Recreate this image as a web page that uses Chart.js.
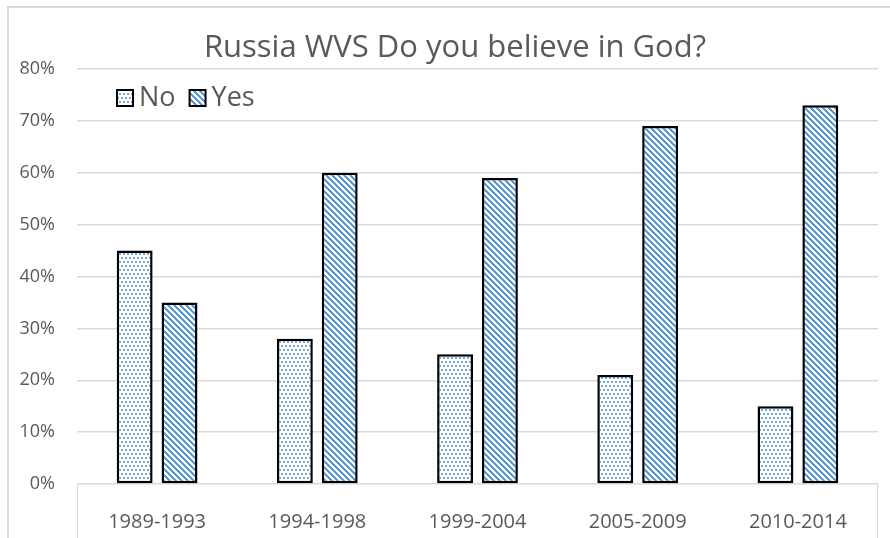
<!DOCTYPE html>
<html>
<head>
<meta charset="utf-8">
<script src="https://cdn.jsdelivr.net/npm/chart.js@4/dist/chart.umd.min.js"></script>
<style>
  html, body { margin: 0; padding: 0; background: #ffffff; }
  #wrap { width: 890px; height: 538px; position: relative; }
</style>
</head>
<body>
<div id="wrap"><canvas id="c" width="890" height="538"></canvas></div>
<script>
// Survey waves and shares (percent)
const periods = ['1989-1993', '1994-1998', '1999-2004', '2005-2009', '2010-2014'];
const noValues = [45, 28, 25, 21, 15];
const yesValues = [35, 60, 59, 69, 73];
const seriesNames = ['No', 'Yes'];
const chartTitle = 'Russia WVS Do you believe in God?';

const TEXT = '#595959';
const GRID = '#d9d9d9';
const BLUE = [91, 155, 213];
const FONT = '"Open Sans", sans-serif';

// Small dotted tile for "No"
function dotPattern() {
  const t = document.createElement('canvas');
  t.width = 8; t.height = 8;
  const g = t.getContext('2d');
  g.fillStyle = '#ffffff';
  g.fillRect(0, 0, 8, 8);
  g.fillStyle = 'rgb(111, 168, 220)';
  g.fillRect(1, 1, 2, 2);
  g.fillRect(5, 1, 2, 2);
  g.fillRect(3, 5, 2, 2);
  g.fillRect(7, 5, 1, 2);
  g.fillRect(0, 5, 1, 2);
  return g.createPattern(t, 'repeat');
}

// Diagonal stripe tile for "Yes"
function stripePattern() {
  const n = 6;
  const t = document.createElement('canvas');
  t.width = n; t.height = n;
  const g = t.getContext('2d');
  const img = g.createImageData(n, n);
  for (let y = 0; y < n; y++) {
    for (let x = 0; x < n; x++) {
      const i = (y * n + x) * 4;
      const d = ((x - y) % n + n) % n;
      const blue = d < 3;
      img.data[i] = blue ? BLUE[0] : 255;
      img.data[i + 1] = blue ? BLUE[1] : 255;
      img.data[i + 2] = blue ? BLUE[2] : 255;
      img.data[i + 3] = 255;
    }
  }
  g.putImageData(img, 0, 0);
  return g.createPattern(t, 'repeat');
}

const noFill = dotPattern();
const yesFill = stripePattern();

// Outer frame, axis end lines, title and the in-plot legend
const decorations = {
  id: 'decorations',
  beforeDraw(chart) {
    const ctx = chart.ctx;
    ctx.save();
    ctx.strokeStyle = GRID;
    ctx.lineWidth = 2;
    ctx.beginPath();
    ctx.moveTo(8, chart.height);
    ctx.lineTo(8, 7);
    ctx.lineTo(chart.width, 7);
    ctx.stroke();
    const a = chart.chartArea;
    ctx.lineWidth = 1;
    ctx.beginPath();
    ctx.moveTo(Math.round(a.left) + 0.5, a.bottom);
    ctx.lineTo(Math.round(a.left) + 0.5, chart.height);
    ctx.moveTo(Math.round(a.right) - 0.5, a.bottom);
    ctx.lineTo(Math.round(a.right) - 0.5, chart.height);
    ctx.stroke();
    ctx.restore();
  },
  afterDraw(chart) {
    const ctx = chart.ctx;
    const a = chart.chartArea;
    ctx.save();
    // title
    ctx.font = '31px ' + FONT;
    ctx.fillStyle = TEXT;
    ctx.textAlign = 'center';
    ctx.textBaseline = 'middle';
    ctx.fillText(chartTitle, 455, 48);
    // legend
    ctx.textAlign = 'left';
    ctx.font = '27px ' + FONT;
    let x = a.left + 40;
    const y = a.top + 29;
    chart.data.datasets.forEach(ds => {
      ctx.fillStyle = ds.backgroundColor;
      ctx.fillRect(x, y - 8, 16, 16);
      ctx.strokeStyle = '#000000';
      ctx.lineWidth = 2;
      ctx.strokeRect(x, y - 8, 16, 16);
      ctx.fillStyle = TEXT;
      ctx.fillText(ds.label, x + 22, y);
      x += 22 + ctx.measureText(ds.label).width + 14;
    });
    ctx.restore();
  }
};

new Chart(document.getElementById('c'), {
  type: 'bar',
  data: {
    labels: periods,
    datasets: [
      { label: seriesNames[0], data: noValues, backgroundColor: noFill },
      { label: seriesNames[1], data: yesValues, backgroundColor: yesFill }
    ]
  },
  options: {
    responsive: false,
    animation: false,
    layout: { padding: { left: 14, right: 12, top: 69, bottom: 0 } },
    datasets: {
      bar: {
        borderColor: '#000000',
        borderWidth: 2.5,
        borderSkipped: false,
        categoryPercentage: 0.56,
        barPercentage: 0.8
      }
    },
    plugins: {
      legend: { display: false },
      tooltip: { enabled: false },
      title: { display: false }
    },
    scales: {
      x: {
        grid: { display: false },
        border: { display: false },
        ticks: {
          color: TEXT,
          font: { family: FONT, size: 20 },
          padding: 18,
          maxRotation: 0
        },
        afterFit(scale) { scale.height = 54; }
      },
      y: {
        min: 0,
        max: 80,
        ticks: {
          stepSize: 10,
          color: TEXT,
          font: { family: FONT, size: 18 },
          padding: 22,
          callback: v => v + '%'
        },
        grid: { color: GRID, lineWidth: 1.5, drawTicks: false },
        border: { display: false },
        afterFit(scale) { scale.width = 63; }
      }
    }
  },
  plugins: [decorations]
});
</script>
</body>
</html>
